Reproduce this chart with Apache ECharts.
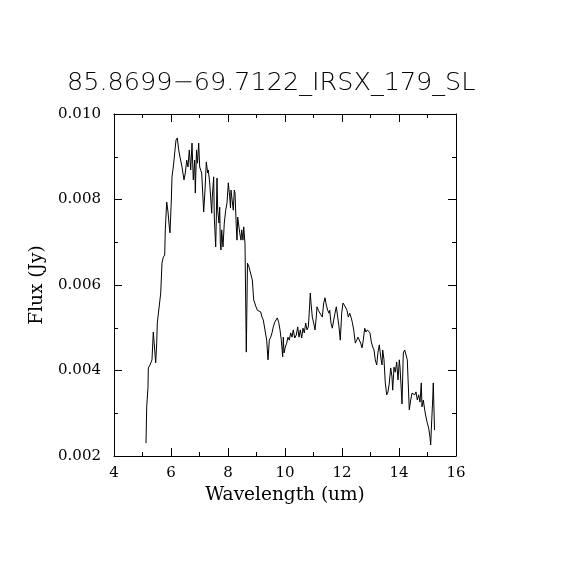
<!DOCTYPE html>
<html>
<head>
<meta charset="utf-8">
<script src="https://cdn.jsdelivr.net/npm/echarts@6/dist/echarts.min.js"></script>
<style>html,body{margin:0;padding:0;background:#fff}#c{width:570px;height:570px}</style>
</head>
<body>
<div id="c"></div>
<script>
const titleText = '85.8699\u221269.7122_IRSX_179_SL';
const xName = 'Wavelength (um)';
const yName = 'Flux (Jy)';
const xTicks = [4, 6, 8, 10, 12, 14, 16];
const yTicks = [0.002, 0.004, 0.006, 0.008, 0.010];

const wavelength = [
5.123,5.147,5.193,5.204,5.263,5.333,5.379,5.463,5.498,5.519,5.589,5.639,5.684,5.730,5.779,5.800,5.849,5.895,5.940,5.965,
6.011,6.035,6.081,6.130,6.175,6.221,6.270,6.316,6.386,6.456,6.502,6.551,6.596,6.642,6.691,6.737,6.782,6.832,6.853,6.895,
6.930,6.972,7.007,7.077,7.147,7.193,7.239,7.288,7.309,7.358,7.428,7.449,7.498,7.519,7.568,7.589,7.614,7.639,7.684,7.709,
7.730,7.754,7.779,7.825,7.870,7.919,7.965,8.011,8.035,8.060,8.088,8.105,8.151,8.186,8.221,8.246,8.291,8.316,8.340,8.386,
8.411,8.456,8.481,8.526,8.551,8.596,8.642,8.684,8.737,8.807,8.853,8.902,8.982,9.028,9.098,9.147,9.193,9.239,9.309,9.358,
9.404,9.449,9.498,9.544,9.589,9.639,9.684,9.730,9.779,9.825,9.870,9.919,9.940,9.965,10.011,10.060,10.105,10.151,10.200,10.246,
10.291,10.340,10.396,10.446,10.491,10.537,10.586,10.632,10.677,10.726,10.772,10.818,10.842,10.888,10.912,10.958,11.007,11.053,11.098,11.123,
11.168,11.218,11.263,11.309,11.358,11.404,11.449,11.498,11.544,11.568,11.614,11.660,11.709,11.754,11.800,11.849,11.895,11.940,11.989,12.035,
12.081,12.130,12.175,12.221,12.270,12.316,12.361,12.411,12.467,12.516,12.561,12.607,12.656,12.702,12.747,12.796,12.842,12.888,12.937,12.982,
13.028,13.077,13.123,13.168,13.218,13.263,13.309,13.358,13.404,13.428,13.474,13.519,13.568,13.614,13.660,13.709,13.754,13.779,13.825,13.870,
13.919,13.965,14.011,14.035,14.081,14.105,14.151,14.200,14.246,14.291,14.326,14.361,14.411,14.456,14.502,14.551,14.596,14.642,14.691,14.737,
14.782,14.807,14.853,14.902,14.947,14.993,15.042,15.088,15.112,15.133,15.182,15.203,15.246
];
const flux = [
0.00230,0.00315,0.00361,0.00406,0.00413,0.00425,0.00490,0.00418,0.00464,0.00511,0.00513,0.00581,0.00651,0.00665,0.00670,0.00729,0.00794,0.00771,0.00736,0.00722,
0.00799,0.00853,0.00876,0.00909,0.00939,0.00944,0.00916,0.00899,0.00876,0.00846,0.00862,0.00892,0.00876,0.00916,0.00869,0.00932,0.00846,0.00892,0.00815,0.00916,
0.00885,0.00932,0.00876,0.00862,0.00771,0.00822,0.00888,0.00862,0.00869,0.00839,0.00768,0.00806,0.00853,0.00759,0.00689,0.00752,0.00850,0.00775,0.00745,0.00782,
0.00698,0.00682,0.00729,0.00689,0.00745,0.00775,0.00792,0.00839,0.00841,0.00806,0.00780,0.00822,0.00822,0.00775,0.00822,0.00815,0.00736,0.00705,0.00759,0.00759,
0.00722,0.00705,0.00729,0.00705,0.00736,0.00698,0.00443,0.00651,0.00642,0.00642,0.00612,0.00565,0.00549,0.00541,0.00537,0.00537,0.00525,0.00518,0.00518,0.00471,
0.00425,0.00471,0.00478,0.00488,0.00502,0.00513,0.00513,0.00523,0.00513,0.00495,0.00471,0.00432,0.00478,0.00441,0.00455,0.00464,0.00478,0.00471,0.00488,0.00478,
0.00495,0.00476,0.00483,0.00502,0.00478,0.00495,0.00476,0.00499,0.00488,0.00511,0.00495,0.00502,0.00525,0.00581,0.00558,0.00525,0.00511,0.00495,0.00525,0.00549,
0.00541,0.00537,0.00530,0.00525,0.00558,0.00570,0.00553,0.00541,0.00534,0.00541,0.00511,0.00499,0.00518,0.00534,0.00549,0.00525,0.00502,0.00471,0.00534,0.00558,
0.00553,0.00549,0.00541,0.00525,0.00534,0.00525,0.00513,0.00495,0.00464,0.00471,0.00478,0.00476,0.00464,0.00453,0.00471,0.00499,0.00490,0.00495,0.00499,0.00488,
0.00467,0.00455,0.00448,0.00425,0.00413,0.00443,0.00460,0.00432,0.00413,0.00448,0.00425,0.00371,0.00343,0.00350,0.00371,0.00406,0.00385,0.00354,0.00408,0.00396,
0.00420,0.00378,0.00425,0.00408,0.00354,0.00322,0.00441,0.00448,0.00446,0.00425,0.00366,0.00308,0.00331,0.00347,0.00350,0.00343,0.00350,0.00331,0.00343,0.00326,
0.00371,0.00315,0.00331,0.00308,0.00291,0.00277,0.00265,0.00244,0.00226,0.00261,0.00331,0.00371,0.00261
];

const points = wavelength.map((w, i) => [w, flux[i]]);
const serif = 'DejaVu Serif';
const black = '#000';

const chart = echarts.init(document.getElementById('c'), null, {renderer: 'canvas'});
const baseAxis = {
  axisLine: {show: true, lineStyle: {color: black, width: 1}},
  axisTick: {show: true, inside: true, length: 8, lineStyle: {color: black}},
  minorTick: {show: true, splitNumber: 2, length: 4, lineStyle: {color: black}},
  splitLine: {show: false}
};
chart.setOption({
  animation: false,
  backgroundColor: '#fff',
  graphic: [{
    type: 'text', left: 67, top: 70,
    style: {text: titleText, fontFamily: 'DejaVu Sans', fontWeight: 300, fontSize: 25.5, fill: black}
  }],
  grid: {left: 114, top: 114, width: 342, height: 342},
  xAxis: [
    Object.assign({}, baseAxis, {
      type: 'value', min: xTicks[0], max: xTicks[xTicks.length - 1], interval: 2,
      name: xName, nameLocation: 'middle', nameGap: 27,
      nameTextStyle: {fontFamily: serif, fontSize: 18.5, color: black},
      axisLabel: {fontFamily: serif, fontSize: 15, color: black, margin: 10}
    }),
    Object.assign({}, baseAxis, {
      type: 'value', position: 'top', min: xTicks[0], max: xTicks[xTicks.length - 1], interval: 2,
      axisLabel: {show: false}
    })
  ],
  yAxis: [
    Object.assign({}, baseAxis, {
      type: 'value', min: yTicks[0], max: yTicks[yTicks.length - 1], interval: 0.002,
      name: yName, nameLocation: 'middle', nameGap: 57,
      nameTextStyle: {fontFamily: serif, fontSize: 18.5, color: black},
      axisLabel: {fontFamily: serif, fontSize: 15, color: black, margin: 13,
        formatter: v => v.toFixed(3)}
    }),
    Object.assign({}, baseAxis, {
      type: 'value', position: 'right', min: yTicks[0], max: yTicks[yTicks.length - 1], interval: 0.002,
      axisLabel: {show: false}
    })
  ],
  series: [{
    type: 'line', data: points, xAxisIndex: 0, yAxisIndex: 0,
    showSymbol: false, symbol: 'none',
    lineStyle: {color: black, width: 1}
  }]
});
</script>
</body>
</html>
